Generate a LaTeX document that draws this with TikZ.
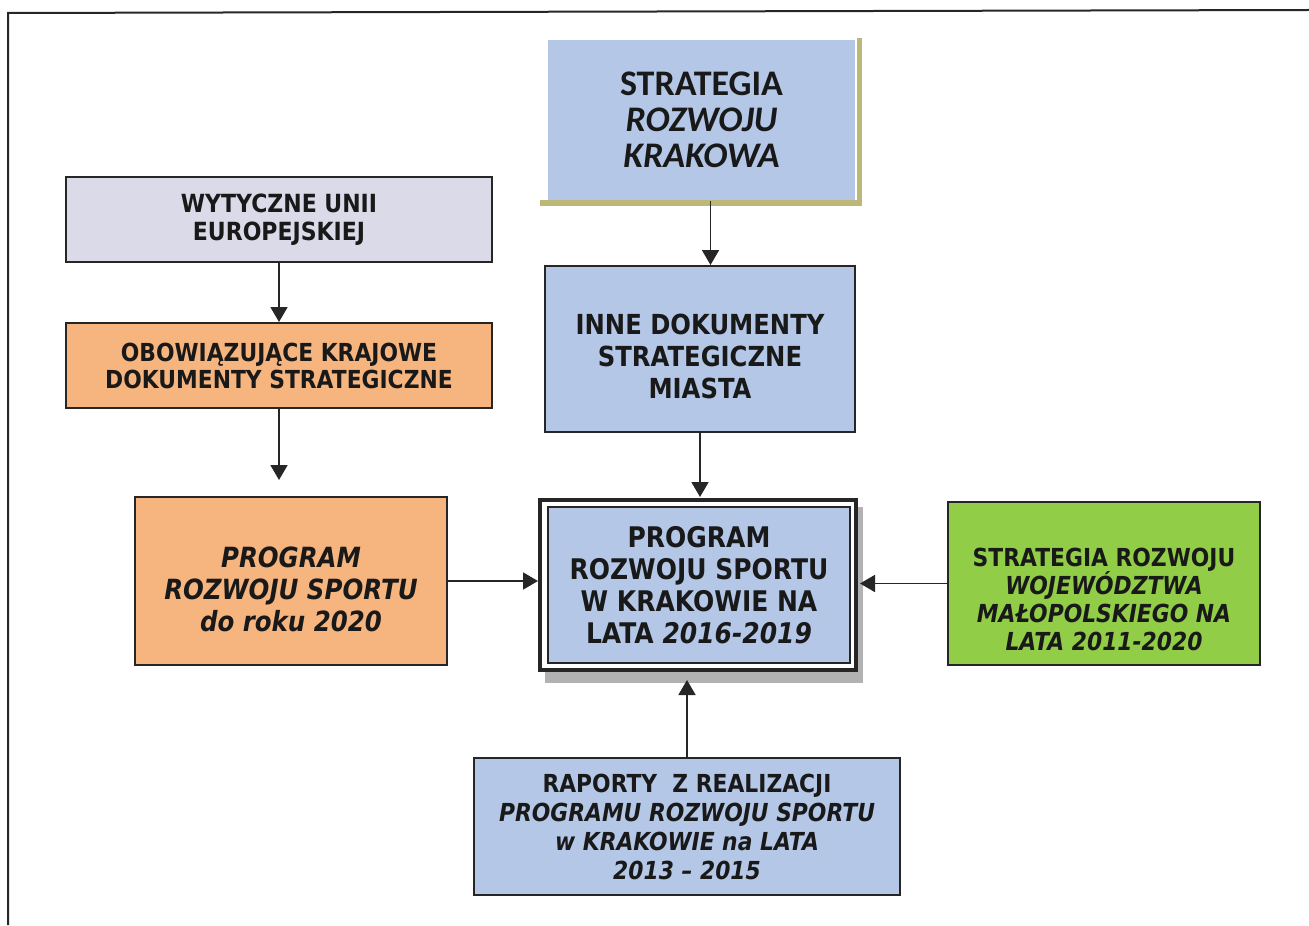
\documentclass[tikz,border=0pt]{standalone}
\usepackage{fontspec}
\usepackage{tikz}
\usetikzlibrary{arrows.meta,calc}
\usepackage[dvipsnames]{xcolor}
\newfontfamily\tahoma[FakeStretch=0.88]{DejaVu Sans}
\newfontfamily\calibri{Carlito}
\definecolor{niebieski}{RGB}{180,199,231}
\definecolor{szary}{RGB}{218,218,232}
\definecolor{pomarancz}{RGB}{246,180,126}
\definecolor{zielony}{RGB}{146,205,72}
\definecolor{oliwka}{RGB}{189,183,120}
\newcommand{\odstep}[1]{\rule{0pt}{#1}}

\begin{document}
\begin{tikzpicture}[x=0.5pt, y=-0.5pt,
                every node/.style = {draw=black!85, line width=1pt, align=center,
                                     text=black!90, inner sep=0pt},
                napis/.style 2 args = {font=\tahoma\bfseries\fontsize{#1}{#2}\selectfont},
                strz/.style = {-{Triangle[length=7.5pt,width=8.5pt]}, line width=0.9pt, black!85}]
                \useasboundingbox (0,0) rectangle (1309,925);
                \draw[line width=1pt, black!85] (1309,10) -- (8,13) -- (8,925);

                \fill[oliwka] (540,200) rectangle (862,206);
                \fill[oliwka] (857,38) rectangle (862,206);
                \node[draw=none, fill=niebieski, minimum width=153.5pt, minimum height=80pt,
                      font=\calibri\bfseries\fontsize{18pt}{18pt}\selectfont] (SRK) at (701.5,120)
                      {STRATEGIA\\\textit{ROZWOJU}\\\textit{KRAKOWA}};
                \node[fill=szary, minimum width=213pt, minimum height=42.5pt,
                      napis={12.5pt}{14pt}] (WUE) at (279,219.5)
                      {WYTYCZNE UNII\\EUROPEJSKIEJ};
                \node[fill=pomarancz, minimum width=213pt, minimum height=42.5pt,
                      napis={12.4pt}{13.5pt}] (OKD) at (279,365.5)
                      {OBOWIĄZUJĄCE KRAJOWE\\DOKUMENTY STRATEGICZNE};
                \node[fill=pomarancz, minimum width=156pt, minimum height=84pt,
                      napis={13.9pt}{16pt}] (PRS) at (291,581)
                      {\odstep{19pt}\textit{PROGRAM}\\\textit{ROZWOJU SPORTU}\\\textit{do roku 2020}};
                \node[fill=niebieski, minimum width=155pt, minimum height=83pt,
                      napis={13.8pt}{16pt}] (IDS) at (700,349)
                      {\odstep{18pt}INNE DOKUMENTY\\STRATEGICZNE\\MIASTA};

                \fill[gray!60] (545,507) rectangle (863,683);
                \draw[line width=1.6pt, black!85, fill=white] (540,500) rectangle (856,670);
                \node[fill=niebieski, minimum width=151pt, minimum height=78pt, outer sep=5pt,
                      napis={14.2pt}{16pt}] (PR) at (699,585)
                      {PROGRAM\\ROZWOJU SPORTU\\W KRAKOWIE NA\\LATA \textit{2016-2019}};

                \node[fill=zielony, minimum width=156pt, minimum height=81.5pt,
                      napis={12.4pt}{14pt}] (SRW) at (1104,583.5)
                      {\odstep{25pt}STRATEGIA ROZWOJU\\\textit{WOJEWÓDZTWA}\\\textit{MAŁOPOLSKIEGO NA}\\\textit{LATA 2011-2020}};
                \node[fill=niebieski, minimum width=213pt, minimum height=68.5pt,
                      napis={12.4pt}{14.5pt}] (RAP) at (687,826.5)
                      {RAPORTY\ \ Z REALIZACJI\\\textit{PROGRAMU ROZWOJU SPORTU}\\\textit{w KRAKOWIE na LATA}\\\textit{2013 – 2015}};

                \draw[strz] ([xshift=4.5pt]SRK.south) -- ([xshift=4.5pt]SRK.south |- IDS.north);
                \draw[strz] (WUE) -- (OKD);
                \draw[strz, shorten >=8pt] (OKD.south) -- (OKD.south |- PRS.north);
                \draw[strz] (PRS.east) -- (PRS.east -| PR.west);
                \draw[strz] (IDS.south) -- (IDS.south |- PR.north);
                \draw[strz] (SRW.west) -- (SRW.west -| PR.east);
                \draw[strz, shorten >=3.5pt] (RAP.north) -- (RAP.north |- PR.south);
\end{tikzpicture}
\end{document}
